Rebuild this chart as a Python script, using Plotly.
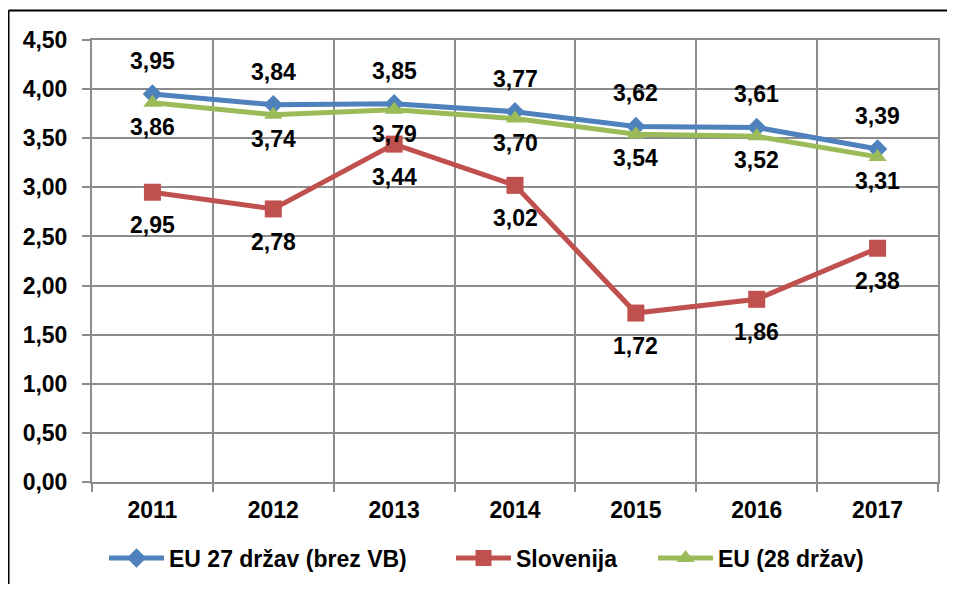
import plotly.graph_objects as go

years = ["2011", "2012", "2013", "2014", "2015", "2016", "2017"]
eu27 = [3.95, 3.84, 3.85, 3.77, 3.62, 3.61, 3.39]
slovenija = [2.95, 2.78, 3.44, 3.02, 1.72, 1.86, 2.38]
eu28 = [3.86, 3.74, 3.79, 3.70, 3.54, 3.52, 3.31]

FONT = dict(family="Liberation Sans, Arial, sans-serif", size=23, color="black", weight="bold")

def fmt(v):
    return f"{v:.2f}".replace(".", ",")

# browser body has 8px margin; compensate (keep page from overflowing)
W, H = 939, 576
L, R, T, B = 84, 9, 32, 102
pw, ph = W - L - R, H - T - B

# (name, values, colour, symbol, marker size, label shift in px (up positive), legend id, legend x px)
series = [
    ("EU 27 držav (brez VB)", eu27, "#4F81BD", "diamond", 15, 33, "legend", 112),
    ("Slovenija", slovenija, "#C0504D", "square", 17, -33, "legend2", 459),
    ("EU (28 držav)", eu28, "#9BBB59", "triangle-up", 16, -24, "legend3", 661),
]

fig = go.Figure()
annotations = []
legends = {}
for name, vals, col, sym, msize, yshift, leg, lx in series:
    fig.add_trace(go.Scatter(
        x=years, y=vals, name=name, mode="lines+markers",
        line=dict(color=col, width=5),
        marker=dict(symbol=sym, size=msize, color=col),
        legend=leg,
    ))
    for i, yv in enumerate(vals):
        annotations.append(dict(x=i, y=yv, text=fmt(yv), showarrow=False,
                                yshift=yshift, font=FONT, xref="x", yref="y"))
    legends[leg] = dict(orientation="h", x=(lx - 8 - L - 8) / pw, xanchor="left",
                        y=-76 / ph, yanchor="middle", font=FONT,
                        itemwidth=55, bgcolor="rgba(0,0,0,0)")

GRID = "#8c8c8c"
xl = (0.5 - L) / pw
yt = 1 + (T - 2.5) / ph
fig.update_layout(
    width=W, height=H,
    margin=dict(l=L, r=R, t=T, b=B, autoexpand=False),
    paper_bgcolor="white", plot_bgcolor="white",
    separators=", ",
    font=FONT,
    showlegend=True,
    xaxis=dict(type="category", tickson="boundaries", range=[-0.5, 6.5],
               showgrid=True, gridcolor=GRID, gridwidth=2,
               showline=True, linecolor=GRID, linewidth=2, mirror=True,
               ticks="outside", ticklen=8, tickcolor=GRID, tickwidth=2,
               ticklabelstandoff=6, tickfont=FONT),
    yaxis=dict(range=[0, 4.5], dtick=0.5, tickformat=".2f",
               showgrid=True, gridcolor=GRID, gridwidth=2,
               showline=True, linecolor=GRID, linewidth=2, mirror=True,
               ticks="outside", ticklen=8, tickcolor=GRID, tickwidth=2,
               ticklabelstandoff=10, tickfont=FONT, zeroline=False),
    annotations=annotations,
    shapes=[
        dict(type="line", xref="paper", yref="paper", x0=xl, x1=1 + (R + 5) / pw,
             y0=yt, y1=yt, line=dict(color="black", width=2), layer="below"),
        dict(type="line", xref="paper", yref="paper", x0=xl, x1=xl,
             y0=yt, y1=-(B + 10) / ph, line=dict(color="black", width=2), layer="below"),
    ],
    **legends,
)

fig.write_html("out.html")
